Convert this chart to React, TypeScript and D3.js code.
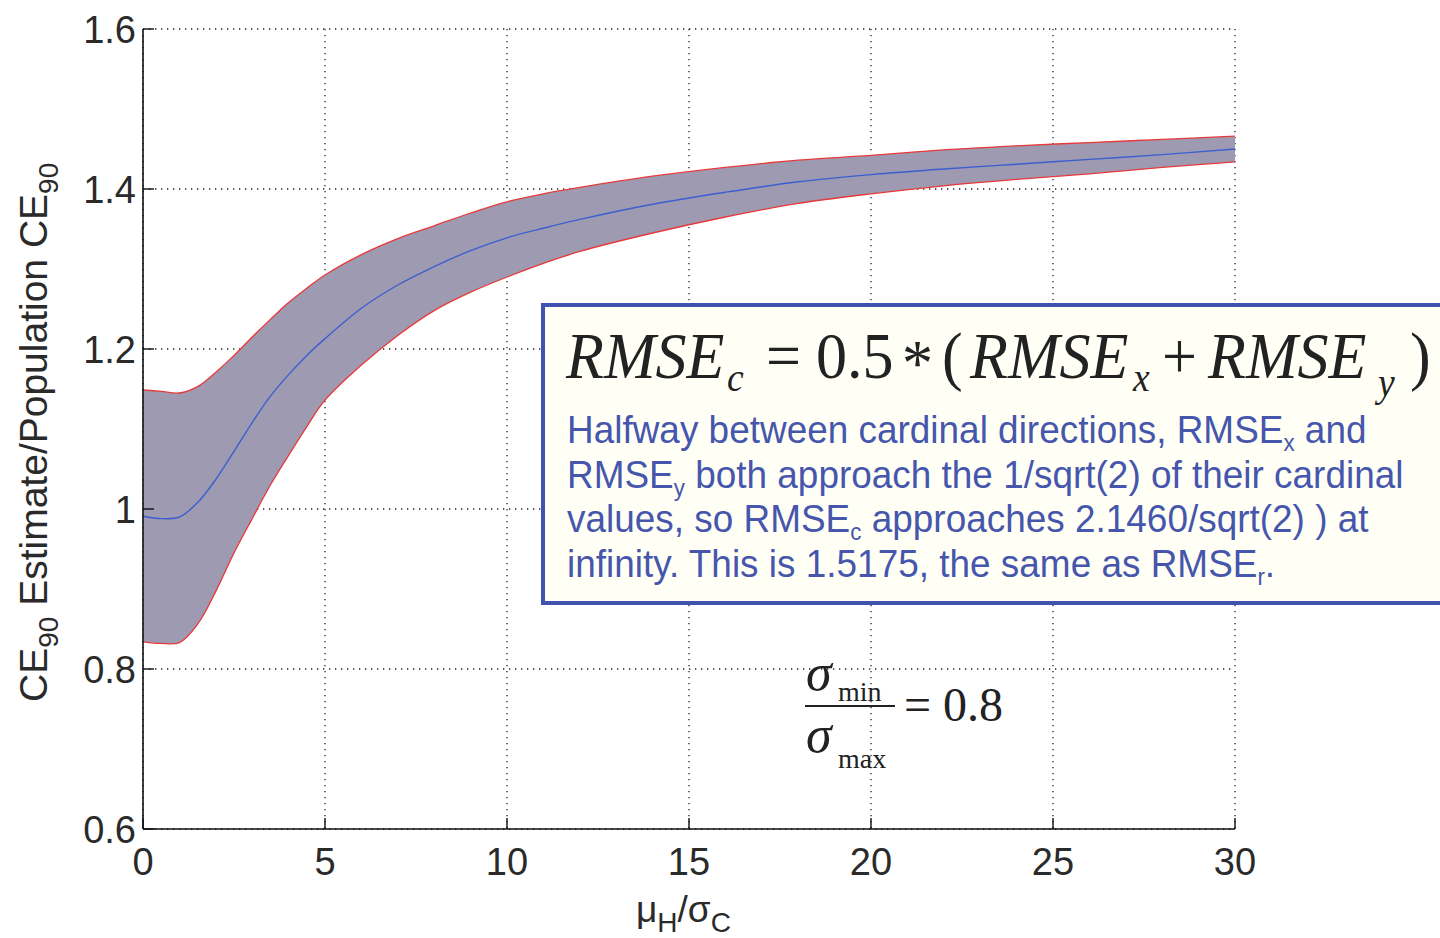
import React from "react";
import * as d3 from "d3";

const xs = [0, 0.5, 1, 1.5, 2, 2.5, 3, 3.5, 4, 4.5, 5, 6, 7, 8, 9, 10, 11, 12, 14, 16, 18, 20, 22, 24, 26, 28, 30];
const meanVals = [0.991, 0.988, 0.99, 1.008, 1.037, 1.072, 1.108, 1.141, 1.168, 1.192, 1.213, 1.251, 1.28, 1.303, 1.323, 1.339, 1.351, 1.362, 1.381, 1.396, 1.409, 1.418, 1.425, 1.431, 1.437, 1.443, 1.45];
const upperVals = [1.149, 1.147, 1.145, 1.153, 1.171, 1.192, 1.215, 1.237, 1.258, 1.276, 1.2925, 1.318, 1.338, 1.354, 1.37, 1.384, 1.394, 1.402, 1.416, 1.427, 1.436, 1.442, 1.449, 1.454, 1.458, 1.462, 1.466];
const lowerVals = [0.834, 0.832, 0.833, 0.856, 0.897, 0.945, 0.988, 1.03, 1.067, 1.103, 1.136, 1.18, 1.217, 1.248, 1.271, 1.29, 1.307, 1.322, 1.345, 1.365, 1.382, 1.394, 1.404, 1.412, 1.419, 1.427, 1.434];
const xTicks = [0, 5, 10, 15, 20, 25, 30];
const yTicks = [0.6, 0.8, 1.0, 1.2, 1.4, 1.6];
const yTickLabels = ["0.6", "0.8", "1", "1.2", "1.4", "1.6"];

const noteLines = [
  ["Halfway between cardinal directions, RMSE", "x", " and"],
  ["RMSE", "y", " both approach the 1/sqrt(2) of their cardinal"],
  ["values, so RMSE", "c", " approaches 2.1460/sqrt(2) ) at"],
  ["infinity. This is 1.5175, the same as RMSE", "r", "."],
];

export default function App() {
  const W = 1440, H = 938;
  const x = d3.scaleLinear().domain([0, 30]).range([143, 1235]);
  const y = d3.scaleLinear().domain([0.6, 1.6]).range([829, 29]);
  const pts = xs.map((v, i) => ({ x: v, m: meanVals[i], u: upperVals[i], l: lowerVals[i] }));
  const cv = d3.curveCatmullRom.alpha(0.5);
  const area = d3.area<any>().x(d => x(d.x)).y0(d => y(d.l)).y1(d => y(d.u)).curve(cv);
  const lineM = d3.line<any>().x(d => x(d.x)).y(d => y(d.m)).curve(cv);
  const lineU = d3.line<any>().x(d => x(d.x)).y(d => y(d.u)).curve(cv);
  const lineL = d3.line<any>().x(d => x(d.x)).y(d => y(d.l)).curve(cv);
  const sans = "Liberation Sans, Arial, sans-serif";
  const serif = "Liberation Serif, Times New Roman, serif";
  const grid = "#222";
  const ink = "#222";
  const fx = 66;
  const piece = (px: number, py: number, s: string, size: number, italic: boolean, key: string) => (
    <text key={key} transform={`translate(${px},${py}) scale(0.94,1)`} fontFamily={serif} fontSize={size} fontStyle={italic ? "italic" : "normal"} fill={ink}>{s}</text>
  );
  return (
    <svg width={W} height={H} style={{ position: "absolute", left: 0, top: 0, background: "#fff" }}>
      {xTicks.map(t => (
        <line key={"gx" + t} x1={x(t)} x2={x(t)} y1={y(1.6)} y2={y(0.6)} stroke={grid} strokeWidth={1.3} strokeDasharray="1.3,4.7" />
      ))}
      {yTicks.map(t => (
        <line key={"gy" + t} x1={x(0)} x2={x(30)} y1={y(t)} y2={y(t)} stroke={grid} strokeWidth={1.3} strokeDasharray="1.3,4.7" />
      ))}
      <path d={area(pts) || ""} fill="#9d9ab2" />
      <path d={lineU(pts) || ""} fill="none" stroke="#e8393a" strokeWidth={1.3} />
      <path d={lineL(pts) || ""} fill="none" stroke="#e8393a" strokeWidth={1.3} />
      <path d={lineM(pts) || ""} fill="none" stroke="#3c5fd0" strokeWidth={1.4} />
      <line x1={x(0)} x2={x(0)} y1={y(1.6)} y2={y(0.6)} stroke="#111" strokeWidth={1.6} />
      <line x1={x(0)} x2={x(30)} y1={y(0.6)} y2={y(0.6)} stroke="#111" strokeWidth={1.6} />
      {xTicks.map(t => (
        <line key={"tx" + t} x1={x(t)} x2={x(t)} y1={y(0.6)} y2={y(0.6) - 11} stroke="#111" strokeWidth={1.4} />
      ))}
      {yTicks.map(t => (
        <line key={"ty" + t} x1={x(0)} x2={x(0) + 11} y1={y(t)} y2={y(t)} stroke="#111" strokeWidth={1.4} />
      ))}
      {xTicks.map(t => (
        <text key={"lx" + t} x={x(t)} y={875} textAnchor="middle" fontFamily={sans} fontSize={38} fill="#2a2a2a">{t}</text>
      ))}
      {yTicks.map((t, i) => (
        <text key={"ly" + t} x={136} y={y(t) + 14} textAnchor="end" fontFamily={sans} fontSize={38} fill="#2a2a2a">{yTickLabels[i]}</text>
      ))}
      <text x={636} y={922} fontFamily={sans} fontSize={37} fill="#2a2a2a">
        μ<tspan fontSize={28} dy={10}>H</tspan><tspan dy={-10}>/σ</tspan><tspan fontSize={28} dy={10}>C</tspan>
      </text>
      <text transform="translate(47,702) rotate(-90)" fontFamily={sans} fontSize={39} fill="#2a2a2a">
        CE<tspan fontSize={28} dy={11}>90</tspan><tspan dy={-11}> Estimate/Population CE</tspan><tspan fontSize={28} dy={11}>90</tspan>
      </text>
      <rect x={543} y={305} width={910} height={298} fill="#fffff6" stroke="#3f52ad" strokeWidth={4} />
      {piece(566, 378, "RMSE", fx, true, "f1")}
      {piece(727, 391, "c", 40, true, "f2")}
      {piece(766, 378, "=", fx, false, "f3")}
      {piece(816, 378, "0.5", fx, false, "f4")}
      {piece(902, 385, "*", fx, false, "f5")}
      {piece(942, 378, "(", fx, false, "f6")}
      {piece(970, 378, "RMSE", fx, true, "f7")}
      {piece(1133, 391, "x", 40, true, "f8")}
      {piece(1162, 378, "+", fx, false, "f9")}
      {piece(1208, 378, "RMSE", fx, true, "f10")}
      {piece(1378, 396, "y", 40, true, "f11")}
      {piece(1410, 378, ")", fx, false, "f12")}
      {noteLines.map((ln, i) => (
        <text key={"n" + i} transform={`translate(567,${443 + i * 44.5}) scale(0.972,1)`} fontFamily={sans} fontSize={38} fill="#4656ac">
          {ln[0]}<tspan fontSize={23} dy={8}>{ln[1]}</tspan><tspan dy={-8}>{ln[2]}</tspan>
        </text>
      ))}
      <text x={806} y={690} fontFamily={serif} fontSize={52} fontStyle="italic" fill={ink}>σ</text>
      <text x={838} y={701} fontFamily={serif} fontSize={28} fill={ink}>min</text>
      <line x1={805} x2={895} y1={706} y2={706} stroke={ink} strokeWidth={1.8} />
      <text x={806} y={752} fontFamily={serif} fontSize={52} fontStyle="italic" fill={ink}>σ</text>
      <text x={838} y={768} fontFamily={serif} fontSize={28} fill={ink}>max</text>
      <text x={904} y={721} fontFamily={serif} fontSize={48} fill={ink}>= 0.8</text>
    </svg>
  );
}
